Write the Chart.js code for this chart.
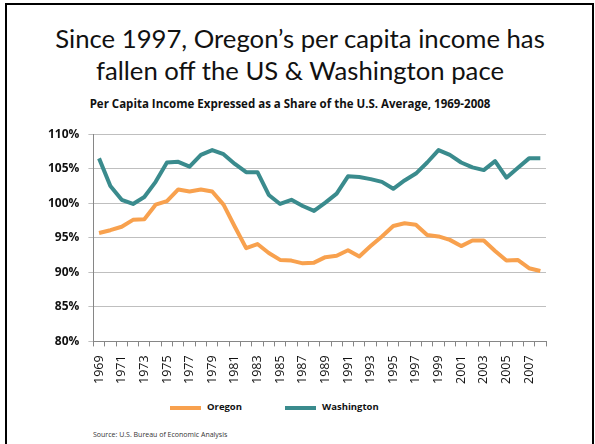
<!DOCTYPE html>
<html>
<head>
<meta charset="utf-8">
<script src="https://cdn.jsdelivr.net/npm/chart.js@4.4.1/dist/chart.umd.min.js"></script>
<style>
  html, body { margin: 0; padding: 0; background: #fff; }
  body { width: 595px; height: 444px; position: relative; overflow: hidden; font-family: "Open Sans", sans-serif; }
  #frame { position: absolute; left: 5px; top: 3px; width: 585px; height: 460px; border: 2px solid #000; border-bottom: none; }
  .title { position: absolute; left: 0; width: 600px; text-align: center; font-family: Lato, sans-serif; font-size: 25.7px; color: #111; white-space: nowrap; }
  #subtitle { position: absolute; left: 0; width: 580px; text-align: center; font-weight: bold; font-size: 11.5px; color: #111; white-space: nowrap; }
  #chart-wrap { position: absolute; left: 0; top: 118px; width: 595px; height: 275px; }
  .legend { position: absolute; top: 400px; font-weight: bold; font-size: 9.5px; color: #111; }
  .legend i { position: absolute; top: 6px; width: 31px; height: 4px; }
  .legend span { position: absolute; left: 37px; top: 0; white-space: nowrap; }
  #source { position: absolute; left: 93px; top: 430px; font-size: 7px; color: #333; white-space: nowrap; }
</style>
</head>
<body>
<div id="frame"></div>
<div class="title" style="top: 23px;">Since 1997, Oregon’s per capita income has</div>
<div class="title" style="top: 55px;">fallen off the US &amp; Washington pace</div>
<div id="subtitle" style="top: 96px;">Per Capita Income Expressed as a Share of the U.S. Average, 1969-2008</div>
<div id="chart-wrap"><canvas id="chart"></canvas></div>
<div class="legend" style="left: 170px;"><i style="background: #F8A14E;"></i><span>Oregon</span></div>
<div class="legend" style="left: 285px;"><i style="background: #3A8B8D;"></i><span>Washington</span></div>
<div id="source">Source: U.S. Bureau of Economic Analysis</div>

<script>
const years = [
  "1969", "1970", "1971", "1972", "1973", "1974", "1975", "1976", "1977", "1978",
  "1979", "1980", "1981", "1982", "1983", "1984", "1985", "1986", "1987", "1988",
  "1989", "1990", "1991", "1992", "1993", "1994", "1995", "1996", "1997", "1998",
  "1999", "2000", "2001", "2002", "2003", "2004", "2005", "2006", "2007", "2008",
];

const oregon = [
  95.7, 96.1, 96.6, 97.6, 97.7, 99.8, 100.3, 102.0, 101.7, 102.0,
  101.7, 99.8, 96.6, 93.5, 94.1, 92.8, 91.8, 91.7, 91.3, 91.4,
  92.2, 92.4, 93.2, 92.3, 93.8, 95.2, 96.7, 97.1, 96.9, 95.4,
  95.2, 94.7, 93.8, 94.6, 94.6, 93.1, 91.7, 91.8, 90.6, 90.2,
];

const washington = [
  106.5, 102.5, 100.5, 99.9, 100.9, 103.1, 105.9, 106.0, 105.3, 107.0,
  107.7, 107.1, 105.7, 104.5, 104.5, 101.2, 99.9, 100.5, 99.6, 98.9,
  100.1, 101.4, 103.9, 103.8, 103.5, 103.1, 102.1, 103.3, 104.3, 105.9,
  107.7, 107.0, 105.9, 105.2, 104.8, 106.1, 103.7, 105.1, 106.5, 106.5,
];

const yTicks = [80, 85, 90, 95, 100, 105, 110];

const GRID = "#BFBFBF";
const AXIS = "#868686";

new Chart(document.getElementById("chart"), {
  type: "line",
  data: {
    labels: years,
    datasets: [
      {
        label: "Oregon",
        data: oregon,
        borderColor: "#F8A14E",
        borderWidth: 4,
        pointRadius: 0,
        tension: 0,
        borderJoinStyle: "round",
      },
      {
        label: "Washington",
        data: washington,
        borderColor: "#3A8B8D",
        borderWidth: 4,
        pointRadius: 0,
        tension: 0,
        borderJoinStyle: "round",
      },
    ],
  },
  options: {
    responsive: true,
    maintainAspectRatio: false,
    animation: false,
    layout: { padding: { left: 39, right: 49, top: 9, bottom: 0 } },
    plugins: {
      legend: { display: false },
      tooltip: { enabled: false },
    },
    scales: {
      x: {
        offset: true,
        grid: { display: true, drawOnChartArea: false, offset: true, tickLength: 5, color: AXIS },
        border: { display: true, color: AXIS },
        ticks: {
          autoSkip: false,
          maxRotation: 90,
          minRotation: 90,
          padding: 9,
          color: "#111",
          font: { family: "Open Sans", size: 12.5 },
          callback: (value, index) => (index % 2 === 0 ? years[index] : ""),
        },
      },
      y: {
        min: yTicks[0],
        max: yTicks[yTicks.length - 1],
        afterBuildTicks: (axis) => {
          axis.ticks = yTicks.map((v) => ({ value: v }));
        },
        grid: { color: GRID, tickLength: 5 },
        border: { display: true, color: AXIS },
        ticks: {
          padding: 9,
          color: "#111",
          font: { family: "Open Sans", size: 12, weight: "bold" },
          callback: (value) => value + "%",
        },
      },
    },
  },
});
</script>
</body>
</html>
